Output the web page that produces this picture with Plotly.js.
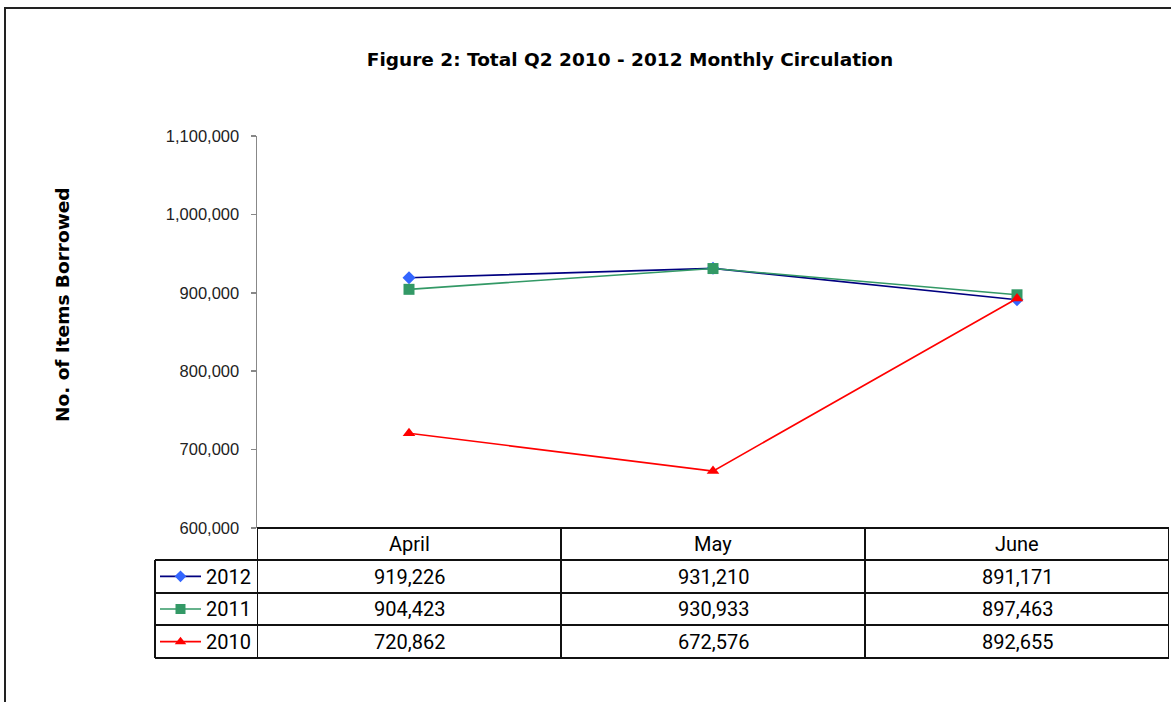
<!DOCTYPE html>
<html>
<head>
<meta charset="utf-8">
<script src="https://cdn.plot.ly/plotly-3.0.1.min.js"></script>
<style>html,body{margin:0;padding:0;background:#fff;}#chart{width:1171px;height:702px;}</style>
</head>
<body>
<div id="chart"></div>
<script>
// ---- data ----
const months = ['April', 'May', 'June'];
const seriesNames = ['2012', '2011', '2010'];
const values2012 = [919226, 931210, 891171];
const values2011 = [904423, 930933, 897463];
const values2010 = [720862, 672576, 892655];
const yTickVals = [600000, 700000, 800000, 900000, 1000000, 1100000];
const chartTitle = 'Figure 2: Total Q2 2010 - 2012 Monthly Circulation';
const yTitle = 'No. of Items Borrowed';

// ---- styles ----
const lineColors = ['#000080', '#339966', '#FF0000'];
const markerColors = ['#3366FF', '#339966', '#FF0000'];
const markerSymbols = ['diamond', 'square', 'triangle-up'];
const markerSizes = [10, 11, 11];
const allValues = [values2012, values2011, values2010];

// ---- geometry helpers (pixels -> paper) ----
const W = 1171, H = 702;
const px = x => x / W;
const py = y => 1 - y / H;
const plotL = 257, plotR = 1169, plotT = 136, plotB = 528;
const keyL = 155;
const rowEdges = [528, 560, 593, 625, 658];
const fmt = v => v.toLocaleString('en-US');

const traces = [];
allValues.forEach((vals, i) => {
  traces.push({
    x: months, y: vals, type: 'scatter', mode: 'lines+markers',
    name: seriesNames[i], xaxis: 'x', yaxis: 'y',
    line: {color: lineColors[i], width: 1.6},
    marker: {color: markerColors[i], symbol: markerSymbols[i], size: markerSizes[i]},
    hoverinfo: 'skip', cliponaxis: false
  });
});
// legend keys inside the table (decorative), on an overlay axis
seriesNames.forEach((n, i) => {
  traces.push({
    x: [5, 46], y: [i, i], type: 'scatter', mode: 'lines', xaxis: 'x2', yaxis: 'y2',
    line: {color: lineColors[i], width: 1.6}, hoverinfo: 'skip', showlegend: false
  });
  traces.push({
    x: [25.5], y: [i], type: 'scatter', mode: 'markers', xaxis: 'x2', yaxis: 'y2',
    marker: {color: markerColors[i], symbol: markerSymbols[i], size: markerSizes[i] - 1},
    hoverinfo: 'skip', showlegend: false
  });
});

const shapes = [];
const lineStyle = {color: '#111', width: 2};
// outer border
shapes.push({type: 'rect', xref: 'paper', yref: 'paper', x0: px(5), x1: px(1180), y0: py(8), y1: py(720),
  line: {color: '#222', width: 2}, fillcolor: 'rgba(0,0,0,0)', layer: 'below'});
// table horizontal lines
rowEdges.forEach((y, r) => {
  shapes.push({type: 'line', xref: 'paper', yref: 'paper', x0: px(r === 0 ? plotL : keyL), x1: px(plotR), y0: py(y), y1: py(y), line: lineStyle});
});
// column boundaries, from category positions
for (let c = 0; c <= months.length; c++) {
  shapes.push({type: 'line', xref: 'x', yref: 'paper', x0: c - 0.5, x1: c - 0.5, y0: py(rowEdges[0]), y1: py(rowEdges[rowEdges.length - 1]), line: lineStyle});
}
// left edge of key column
shapes.push({type: 'line', xref: 'paper', yref: 'paper', x0: px(keyL), x1: px(keyL), y0: py(rowEdges[1]), y1: py(rowEdges[4]), line: lineStyle});

const annotations = [];
const cellFont = {family: 'Roboto, sans-serif', size: 20, color: '#000'};
const rowMid = r => py((rowEdges[r] + rowEdges[r + 1]) / 2);
months.forEach((m, c) => {
  annotations.push({xref: 'x', yref: 'paper', x: m, y: rowMid(0), text: m, showarrow: false, font: cellFont, xanchor: 'center', yanchor: 'middle'});
  allValues.forEach((vals, r) => {
    annotations.push({xref: 'x', yref: 'paper', x: m, y: rowMid(r + 1), text: fmt(vals[c]), showarrow: false, font: cellFont, xanchor: 'center', yanchor: 'middle'});
  });
});
seriesNames.forEach((n, r) => {
  annotations.push({xref: 'x2', yref: 'paper', x: 49, y: rowMid(r + 1), text: n, showarrow: false, font: cellFont, xanchor: 'left', yanchor: 'middle'});
});
annotations.push({xref: 'paper', yref: 'paper', x: px(62), y: py(305), text: yTitle, textangle: -90, showarrow: false,
  font: {family: 'DejaVu Sans, sans-serif', size: 18.5, color: '#000', weight: 'bold'}, xanchor: 'center', yanchor: 'middle'});

const layout = {
  width: W, height: H,
  margin: {l: 0, r: 0, t: 0, b: 0},
  paper_bgcolor: '#fff', plot_bgcolor: '#fff',
  showlegend: false,
  title: {text: '<b>' + chartTitle + '</b>', x: px(630), y: py(60), xanchor: 'center', yanchor: 'middle', xref: 'paper', yref: 'paper',
    font: {family: 'DejaVu Sans, sans-serif', size: 18.5, color: '#000'}},
  xaxis: {domain: [px(plotL), px(plotR)], type: 'category', range: [-0.5, 2.5], showticklabels: false, ticks: '',
    showgrid: false, zeroline: false, showline: false, fixedrange: true},
  yaxis: {domain: [py(plotB), py(plotT)], range: [600000, 1100000], tickvals: yTickVals, tickformat: ',d',
    showgrid: false, zeroline: false, showline: true, linecolor: '#888', linewidth: 1.5,
    ticks: 'outside', ticklen: 5, tickcolor: '#888', tickwidth: 1.5, ticklabelstandoff: 8,
    tickfont: {family: 'Liberation Sans, Arial, sans-serif', size: 16.5, color: '#222'}, fixedrange: true},
  xaxis2: {domain: [px(keyL), px(plotL)], range: [0, plotL - keyL], visible: false, fixedrange: true, anchor: 'y2'},
  yaxis2: {domain: [py(rowEdges[4]), py(rowEdges[1])], range: [2.5, -0.5], visible: false, fixedrange: true, anchor: 'x2'},
  shapes: shapes,
  annotations: annotations
};

Plotly.newPlot('chart', traces, layout, {displayModeBar: false, staticPlot: true});
</script>
</body>
</html>
